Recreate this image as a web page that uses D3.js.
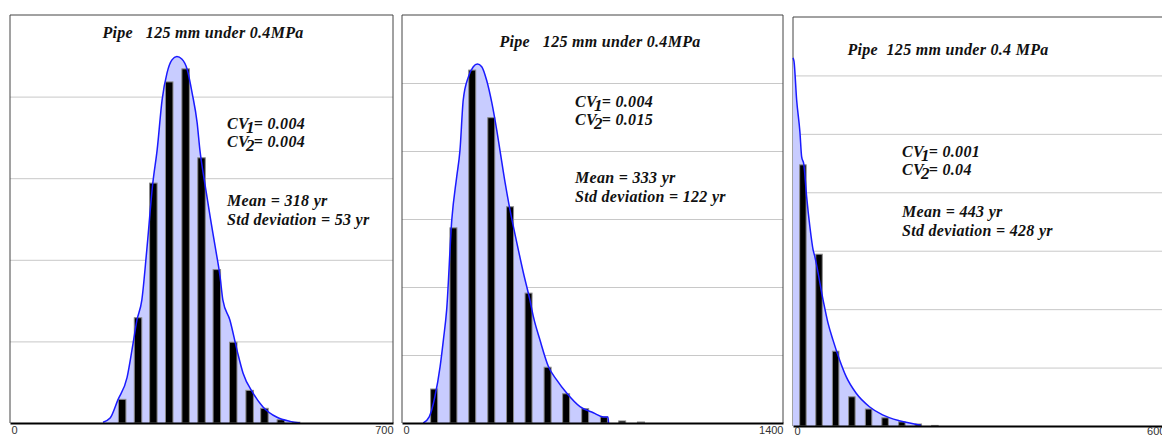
<!DOCTYPE html>
<html>
<head>
<meta charset="utf-8">
<script src="https://cdn.jsdelivr.net/npm/d3@7"></script>
<style>
  body { margin: 0; background: #fff; }
  svg { display: block; }
  .title, .note { font-family: "Liberation Serif", serif; font-weight: bold; font-style: italic; fill: #111; white-space: pre; letter-spacing: 0.3px; }
  .tick-label { font-family: "Liberation Sans", sans-serif; font-size: 11px; fill: #333; }
</style>
</head>
<body>
<svg id="chart" width="1162" height="436"></svg>
<script>
// ---- data (x in years, y in grid units) ----
const titles = ["Pipe   125 mm under 0.4MPa", "Pipe   125 mm under 0.4MPa", "Pipe  125 mm under 0.4 MPa"];
const cv1Labels = ["0.004", "0.004", "0.001"];
const cv2Labels = ["0.004", "0.015", "0.04"];
const meanLabels = ["318", "333", "443"];
const stdLabels = ["53", "122", "428"];
const xMaxValues = [700, 1400, 6000];
const gridCounts = [5, 6, 7];

const binCenters1 = [205, 234, 262, 291, 321, 350, 378, 408, 438, 465, 495, 523];
const barHeights1 = [0.29, 1.29, 2.94, 4.18, 4.34, 3.25, 1.88, 0.99, 0.40, 0.18, 0.04, 0.01];
const curveX1 = [170, 183, 197, 214, 225, 232, 241, 250, 261, 269, 278, 287, 296, 305, 314, 324, 333, 342, 347, 356, 366, 375, 384, 389, 402, 415, 426, 444, 462, 488, 512, 530];
const curveY1 = [0.01, 0.06, 0.28, 0.56, 0.98, 1.26, 1.51, 2.12, 2.94, 3.35, 3.96, 4.29, 4.45, 4.49, 4.46, 4.33, 4.04, 3.68, 3.35, 2.94, 2.52, 2.16, 1.79, 1.51, 1.26, 0.89, 0.61, 0.37, 0.20, 0.07, 0.02, 0];

const binCenters2 = [118, 189, 258, 328, 397, 465, 535, 603, 673, 742, 809, 878];
const barHeights2 = [0.50, 2.87, 5.19, 4.49, 3.18, 1.91, 0.82, 0.43, 0.21, 0.09, 0.03, 0.015];
const curveX2 = [78, 100, 121, 140, 152, 164, 183, 201, 213, 225, 244, 262, 277, 293, 311, 330, 348, 360, 379, 397, 422, 446, 470, 483, 507, 538, 569, 605, 654, 703, 740, 757, 759];
const curveY2 = [0, 0.09, 0.39, 0.83, 1.22, 1.66, 2.99, 3.62, 4.01, 4.75, 5.09, 5.24, 5.28, 5.24, 5.04, 4.71, 4.31, 4.01, 3.53, 3.13, 2.65, 2.21, 1.81, 1.56, 1.22, 0.83, 0.63, 0.44, 0.24, 0.15, 0.09, 0.09, 0];

const binCenters3 = [157, 413, 677, 934, 1200, 1462, 1728, 1989, 2252];
const barHeights3 = [4.47, 2.94, 1.28, 0.50, 0.29, 0.14, 0.07, 0.034, 0.01];
const curveX3 = [0, 16, 58, 110, 137, 173, 216, 268, 320, 346, 477, 556, 635, 740, 846, 1003, 1213, 1422, 1685, 1948, 2032];
const curveY3 = [6.3, 6.24, 5.58, 5.03, 4.61, 4.47, 3.93, 3.41, 3.01, 2.90, 2.16, 1.76, 1.47, 1.13, 0.84, 0.56, 0.33, 0.19, 0.09, 0.03, 0.01];

// ---- layout ----
const layout = [
    {left: 10, right: 393, top: 15, bottom: 423, barW: 7.5, pad: 3, titleX: 203, titleY: 38, noteX: 227, cvY: 129, meanY: 206},
    {left: 402, right: 783, top: 15, bottom: 423, barW: 7, pad: 3, titleX: 600, titleY: 47, noteX: 575, cvY: 107, meanY: 183},
    {left: 793, right: 1171, top: 17, bottom: 426, barW: 6.5, pad: 1, titleX: 948, titleY: 55, noteX: 902, cvY: 157, meanY: 217}
];

const series = [
    {bins: binCenters1, bars: barHeights1, cx: curveX1, cy: curveY1},
    {bins: binCenters2, bars: barHeights2, cx: curveX2, cy: curveY2},
    {bins: binCenters3, bars: barHeights3, cx: curveX3, cy: curveY3}
];

const svg = d3.select("#chart");

layout.forEach((L, i) => drawPanel(L, series[i], i));

function drawPanel(L, s, i) {
    const g = svg.append("g");
    const x = d3.scaleLinear().domain([0, xMaxValues[i]]).range([L.left, L.right]);
    const y = d3.scaleLinear().domain([0, gridCounts[i]]).range([L.bottom, L.top]);

    // gridlines
    g.append("g")
        .attr("transform", `translate(${L.left},0)`)
        .call(d3.axisLeft(y).tickValues(d3.range(1, gridCounts[i])).tickSize(-(L.right - L.left)).tickFormat(""))
        .call(a => a.select(".domain").remove())
        .call(a => a.selectAll("line").attr("stroke", "#c8c8c8"));

    // frame
    g.append("path")
        .attr("d", `M${L.left},${L.bottom} V${L.top} H${L.right} V${L.bottom}`)
        .attr("fill", "none").attr("stroke", "#444").attr("stroke-width", 1);

    // fitted curve
    const pts = s.cx.map((v, k) => [v, s.cy[k]]);
    g.append("path")
        .datum(pts)
        .attr("fill", "#c8ccff")
        .attr("d", d3.area().x(d => x(d[0])).y0(y(0)).y1(d => y(d[1])).curve(d3.curveMonotoneX));

    // bars
    g.selectAll("rect.bar")
        .data(s.bins.map((c, k) => [c, s.bars[k]]))
        .join("rect")
        .attr("class", "bar")
        .attr("x", d => x(d[0]) - L.barW / 2)
        .attr("width", L.barW)
        .attr("y", d => y(d[1]))
        .attr("height", d => y(0) - y(d[1]))
        .attr("fill", d => d[1] < 0.02 ? "#bbb" : "#000")
        .attr("stroke", "#8a8a8a").attr("stroke-width", 1);

    g.append("path")
        .datum(pts)
        .attr("fill", "none")
        .attr("stroke", "#1a1aff").attr("stroke-width", 1.5)
        .attr("d", d3.line().x(d => x(d[0])).y(d => y(d[1])).curve(d3.curveMonotoneX));

    // x axis
    const ax = g.append("g")
        .attr("transform", `translate(0,${L.bottom})`)
        .call(d3.axisBottom(x).tickValues([0, xMaxValues[i]]).tickFormat(d3.format("d")).tickSize(0).tickPadding(L.pad));
    ax.select(".domain").attr("stroke", "#000").attr("stroke-width", 2);
    ax.selectAll(".tick text")
        .attr("class", "tick-label")
        .attr("font-family", null).attr("font-size", null).attr("fill", null)
        .attr("text-anchor", (d, k) => k === 0 ? "start" : "end")
        .attr("dx", (d, k) => k === 0 ? 1 : 0);

    // title
    g.append("text").attr("class", "title")
        .attr("x", L.titleX).attr("y", L.titleY)
        .attr("text-anchor", "middle").attr("font-size", 16)
        .text(titles[i]);

    // CV notes
    [[cv1Labels[i], "1", 0], [cv2Labels[i], "2", 18]].forEach(([val, sub, off]) => {
        const t = g.append("text").attr("class", "note")
            .attr("x", L.noteX).attr("y", L.cvY + off).attr("font-size", 16);
        t.append("tspan").text("CV");
        t.append("tspan").attr("dx", -3).attr("dy", 4).attr("font-size", 17).text(sub);
        t.append("tspan").attr("dx", -1).attr("dy", -4).text("= " + val);
    });

    g.append("text").attr("class", "note")
        .attr("x", L.noteX).attr("y", L.meanY).attr("font-size", 16)
        .text(`Mean = ${meanLabels[i]} yr`);
    g.append("text").attr("class", "note")
        .attr("x", L.noteX).attr("y", L.meanY + 19).attr("font-size", 16)
        .text(`Std deviation = ${stdLabels[i]} yr`);
}
</script>
</body>
</html>
